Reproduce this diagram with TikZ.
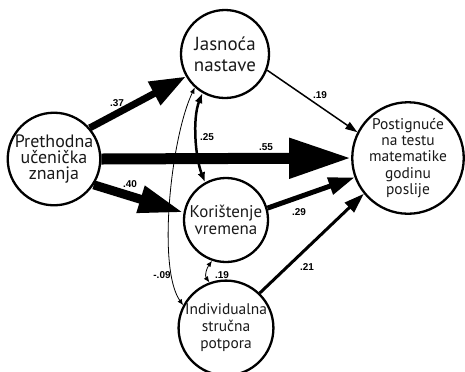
\documentclass[tikz,border=0pt]{standalone}
\usepackage{fontspec}
\setmainfont{PT Sans}
\newfontfamily\lblfont{Liberation Sans}
\usetikzlibrary{arrows.meta}
\newcommand\fsz[2]{\fontsize{#1}{#2}\selectfont}
\begin{document}
\begin{tikzpicture}[x=1bp,y=-1bp,
  var/.style={circle, draw, line width=2.3bp, inner sep=0pt, align=center, text=black!90},
  lbl/.style={font=\lblfont\bfseries\fsz{10}{10}},
  thin/.style={line width=0.8bp, {Latex[length=6bp,width=5bp]}-{Latex[length=6bp,width=5bp]}},
  thick/.style n args={3}{line width=#1, line cap=butt, -{Triangle[length=#2,width=#3]}},
  ]
\useasboundingbox (0,0) rectangle (465,371);
\node[var, minimum size=92bp, font=\fsz{18}{16.5}] (pre) at (54,159) {Prethodna\\učenička\\znanja};
\node[var, minimum size=88bp, font=\fsz{19}{21}] (jas) at (225,54) {Jasnoća\\nastave};
\node[var, minimum size=84bp, font=\fsz{17}{16.5}] (kor) at (226,220) {Korištenje\\vremena};
\node[var, minimum size=86bp, font=\fsz{15.5}{17}] (ind) at (226,328) {Individualna\\stručna\\potpora};
\node[var, minimum size=104bp, font=\fsz{15.5}{16.5}] (post) at (408,158) {Postignuće\\na testu\\matematike\\godinu\\poslije};
% correlations
\draw[thin] (jas.-132) .. controls +(-24,50) and +(-26,-37) .. (ind.152);
\draw[thin] (kor.-109) .. controls +(-5,7) and +(-5,-7) .. (ind.110);
\draw[line width=2.5bp, {Latex[length=10bp,width=8bp]}-{Latex[length=10bp,width=8bp]}] (jas.-120) .. controls +(-10,25) and +(-10,-25) .. (kor.119);
% paths
\draw[thick={7bp}{36bp}{25bp}] (pre.41) -- (jas.210);
\draw[thick={9bp}{45bp}{26bp}] (pre.-33) -- (kor.170);
\draw[thick={11bp}{62bp}{38bp}] (pre.east) -- (post.west);
\draw[thick={5bp}{26bp}{17bp}] (kor.16) -- (post.200);
\draw[thick={3bp}{20bp}{13bp}] (ind.46) -- (post.219);
\draw[thick={1.5bp}{12bp}{8bp}] (jas.-21) -- (post.153);
% labels
\node[lbl] (l37) at (117,103) {.37};
\node[lbl] (l25) at (207,137) {.25};
\node[lbl] (l40) at (130,184) {.40};
\node[lbl] (l55) at (266,147) {.55};
\node[lbl] (l19a) at (320,95) {.19};
\node[lbl] (l29) at (299,212) {.29};
\node[lbl] (l21) at (307,267) {.21};
\node[lbl] (l19b) at (222,275) {.19};
\node[lbl] (l09) at (162,275) {-.09};
\end{tikzpicture}
\end{document}
